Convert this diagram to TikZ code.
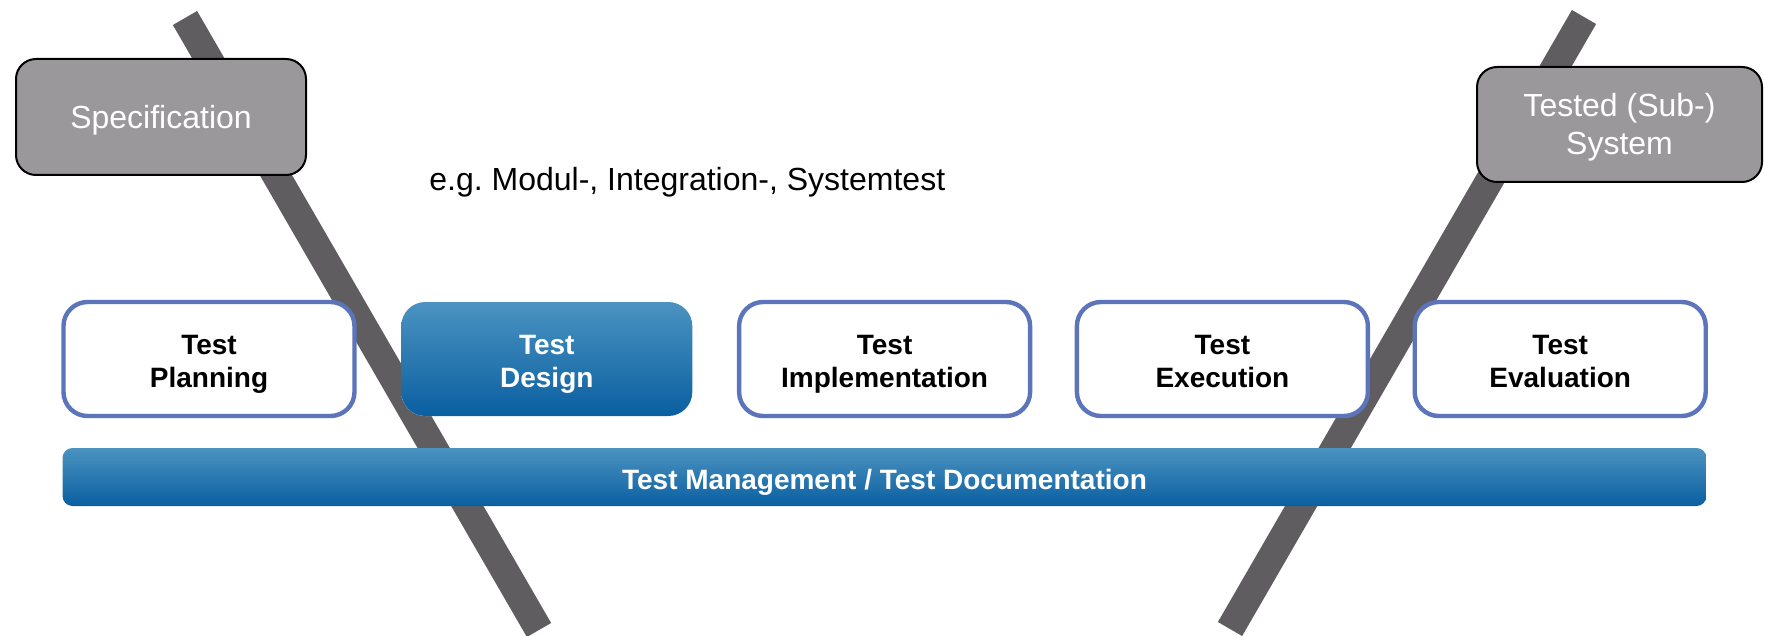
\documentclass[tikz,border=0pt]{standalone}
\usepackage{fontspec}
\setmainfont{Liberation Sans}
\usepackage{xcolor}
\usepackage{tikz}
\usetikzlibrary{positioning}

\definecolor{vgray}{HTML}{5F5D60}
\definecolor{boxgray}{HTML}{9A989B}
\definecolor{phaseblue}{HTML}{5B74BA}
\definecolor{topblue}{HTML}{4B93C1}
\definecolor{midblue}{HTML}{3A84B8}
\definecolor{botblue}{HTML}{0A5FA1}

\tikzset{
    every node/.style={font=\fontsize{14}{16.5}\selectfont},
    vbar/.style={vgray, line width=14pt, line cap=butt},
    docbox/.style={draw=black, line width=1pt, fill=boxgray, text=white,
        rounded corners=10pt, align=center, font=\fontsize{16}{19}\selectfont},
    phase/.style={draw=phaseblue, line width=2.2pt, fill=white, rounded corners=12pt,
        minimum width=145.5pt, minimum height=57pt, outer sep=0pt, align=center,
        text height=28pt, text depth=0pt,
        font=\fontsize{14}{16.5}\selectfont\bfseries},
    phaseon/.style={phase, draw=none, top color=topblue, middle color=midblue,
        bottom color=botblue, text=white},
    mgmt/.style={top color=topblue, middle color=midblue, bottom color=botblue,
        rounded corners=5pt, minimum width=822pt, minimum height=29pt, text=white,
        text height=12.5pt, text depth=0pt,
        font=\fontsize{14}{16.5}\selectfont\bfseries}
}

\begin{document}
\frenchspacing
\begin{tikzpicture}[x=0.5pt,y=-0.5pt]
    \useasboundingbox (0,0) rectangle (1765,636);

    % the two legs of the V
    \coordinate (ltop) at (185,18);
    \coordinate (lbot) at (539,630);
    \coordinate (rtop) at (1584,17);
    \coordinate (rbot) at (1230,629);
    \draw[vbar] (ltop) -- (lbot);
    \draw[vbar] (rtop) -- (rbot);

    % input and output
    \node[docbox, minimum width=145pt, minimum height=58pt,
        text height=11.5pt, text depth=0pt] (spec) at (161,117) {Specification};
    \node[docbox, minimum width=142.5pt, minimum height=57.5pt,
        text height=30.5pt, text depth=0pt] (tested) at (1619.5,124.5)
        {Tested (Sub-)\\System};

    \node[anchor=base west, inner sep=0pt, font=\fontsize{16}{19}\selectfont] (levels)
        at (429,191) {e.g. Modul-, Integration-, Systemtest};

    % test phases
    \node[phase] (plan) at (209,359) {Test\\Planning};
    \node[phaseon, right=23.4pt of plan] (design) {Test\\Design};
    \node[phase, right=23.4pt of design] (impl) {Test\\Implementation};
    \node[phase, right=23.4pt of impl] (exec) {Test\\Execution};
    \node[phase, right=23.4pt of exec] (eval) {Test\\Evaluation};

    % management bar below
    \node[mgmt] (manage) at (884.5,477) {Test Management / Test Documentation};
\end{tikzpicture}
\end{document}
